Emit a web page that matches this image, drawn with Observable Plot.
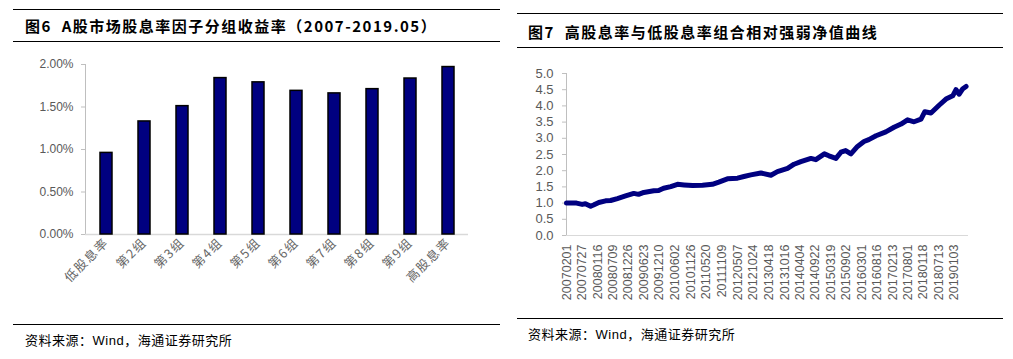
<!DOCTYPE html>
<html><head><meta charset="utf-8">
<script src="https://cdn.jsdelivr.net/npm/d3@7"></script>
<script src="https://cdn.jsdelivr.net/npm/@observablehq/plot@0.6"></script>
<style>
html,body{margin:0;padding:0;background:#fff;}
#root{position:relative;width:1013px;height:359px;overflow:hidden;font-family:"Noto Sans CJK SC","Liberation Sans",sans-serif;}
.rule{position:absolute;height:0;border-top:1.5px solid #000;}
.title{position:absolute;font-weight:bold;font-size:15px;letter-spacing:1.5px;color:#000;line-height:18px;white-space:nowrap;}
.src{position:absolute;font-size:13px;letter-spacing:0.5px;color:#000;line-height:16px;white-space:nowrap;}
.plot{position:absolute;}
#left g[aria-label="x-axis tick label"] text{letter-spacing:1.5px;}
</style></head>
<body><div id="root">
<div class="rule" style="left:13px;top:9px;width:487px"></div>
<div class="title" style="left:25px;top:17px">图6&nbsp;&nbsp;A股市场股息率因子分组收益率（2007-2019.05）</div>
<div class="rule" style="left:13px;top:41px;width:487px"></div>
<div class="plot" id="left" style="left:13px;top:50px"></div>
<div class="rule" style="left:13px;top:324px;width:487px"></div>
<div class="src" style="left:25px;top:332px">资料来源：<span style="font-family:'Liberation Sans'">Wind</span>，海通证券研究所</div>

<div class="rule" style="left:517px;top:13px;width:486px"></div>
<div class="title" style="left:528px;top:23px">图7&nbsp;&nbsp;高股息率与低股息率组合相对强弱净值曲线</div>
<div class="rule" style="left:517px;top:47px;width:486px"></div>
<div class="plot" id="right" style="left:517px;top:56px"></div>
<div class="rule" style="left:517px;top:318px;width:486px"></div>
<div class="src" style="left:528px;top:326px">资料来源：<span style="font-family:'Liberation Sans'">Wind</span>，海通证券研究所</div>
</div>
<script>
// ---- Figure 6 data ----
const groups = ["低股息率","第2组","第3组","第4组","第5组","第6组","第7组","第8组","第9组","高股息率"];
const groupReturns = [0.96,1.33,1.51,1.84,1.79,1.69,1.66,1.71,1.835,1.97]; // percent
const barTicks = [0,0.5,1,1.5,2];

// ---- Figure 7 data ----
const navDates = ["2007-02-01","2007-05-25","2007-07-27","2007-09-01","2007-10-30","2007-12-01","2008-01-30","2008-04-15","2008-06-10","2008-08-25","2008-11-25","2009-02-25","2009-04-20","2009-06-18","2009-10-08","2009-12-01","2010-01-26","2010-04-16","2010-07-01","2010-09-13","2010-12-16","2011-04-08","2011-07-27","2011-10-08","2012-01-12","2012-05-05","2012-07-16","2012-10-01","2013-01-22","2013-05-15","2013-07-27","2013-11-18","2014-01-30","2014-04-16","2014-08-07","2014-10-01","2015-01-05","2015-02-25","2015-05-15","2015-07-10","2015-09-01","2015-10-30","2016-01-12","2016-03-25","2016-05-18","2016-08-07","2016-11-25","2017-02-25","2017-05-15","2017-07-27","2017-10-08","2017-12-25","2018-02-06","2018-04-16","2018-07-16","2018-10-01","2018-12-16","2019-01-22","2019-02-25","2019-04-05","2019-05-15"];
const navValues = [1.00,1.00,0.96,0.98,0.90,0.94,1.02,1.07,1.08,1.14,1.22,1.30,1.27,1.33,1.38,1.39,1.46,1.51,1.58,1.56,1.54,1.55,1.58,1.65,1.75,1.77,1.82,1.87,1.93,1.86,1.97,2.07,2.20,2.28,2.38,2.34,2.52,2.46,2.38,2.57,2.62,2.52,2.75,2.90,2.96,3.08,3.20,3.34,3.44,3.57,3.51,3.59,3.82,3.78,4.02,4.21,4.31,4.50,4.36,4.52,4.60];
const dateLabels = ["20070201","20070727","20080116","20080709","20081226","20090623","20091210","20100602","20101126","20110520","20111109","20120507","20121024","20130418","20131016","20140404","20140922","20150319","20150902","20160301","20160816","20170213","20170801","20180118","20180713","20190103"];
const navTicks = [0,0.5,1,1.5,2,2.5,3,3.5,4,4.5,5];
const navDomain = ["2007-02-01","2019-05-31"];

const parseD = d3.utcParse("%Y-%m-%d");
const parseL = d3.utcParse("%Y%m%d");

const barData = groups.map((g,i)=>({g, v: groupReturns[i]}));
const left = Plot.plot({
  width: 487, height: 270,
  marginLeft: 72, marginRight: 32, marginTop: 14, marginBottom: 86,
  style: {fontFamily: "'Liberation Sans', Arial, sans-serif", background: "#fff"},
  x: {domain: groups, paddingInner: 0.69, paddingOuter: 0.345},
  y: {domain: [0, 2]},
  marks: [
    Plot.frame({anchor: "left", stroke: "#bfbfbf"}),
    Plot.ruleY([0], {stroke: "#d9d9d9", strokeWidth: 1.5}),
    Plot.barY(barData, {x: "g", y: "v", fill: "#000080", stroke: "#000", strokeWidth: 1.5}),
    Plot.axisY({ticks: barTicks, tickFormat: d => d.toFixed(2) + "%", tickSize: 4, tickPadding: 8, stroke: "#bfbfbf", fill: "#595959", fontSize: 12, label: null}),
    Plot.axisX({tickRotate: -45, tickSize: 0, tickPadding: 6, fill: "#666", fontSize: 12.5, fontFamily: "'Noto Sans CJK SC', sans-serif", label: null})
  ]
});
document.getElementById("left").appendChild(left);

const navData = navDates.map((d,i)=>({date: parseD(d), v: navValues[i]}));
const right = Plot.plot({
  width: 486, height: 250,
  marginLeft: 49, marginRight: 36, marginTop: 17, marginBottom: 71,
  style: {fontFamily: "'Liberation Sans', Arial, sans-serif", background: "#fff"},
  x: {type: "utc", domain: navDomain.map(parseD)},
  y: {domain: [0, 5]},
  marks: [
    Plot.frame({anchor: "left", stroke: "#bfbfbf"}),
    Plot.frame({anchor: "bottom", stroke: "#d9d9d9"}),
    Plot.axisY({ticks: navTicks, tickFormat: d => d.toFixed(1), tickSize: 4, tickPadding: 9, stroke: "#bfbfbf", fill: "#595959", fontSize: 13, label: null}),
    Plot.axisX({ticks: dateLabels.map(parseL), tickFormat: d3.utcFormat("%Y%m%d"), tickRotate: -90, tickSize: 0, tickPadding: 9, fill: "#595959", fontSize: 12.5, label: null}),
    Plot.lineY(navData, {x: "date", y: "v", stroke: "#000080", strokeWidth: 5, strokeLinejoin: "round", curve: "linear"})
  ]
});
document.getElementById("right").appendChild(right);
</script>
</body></html>
